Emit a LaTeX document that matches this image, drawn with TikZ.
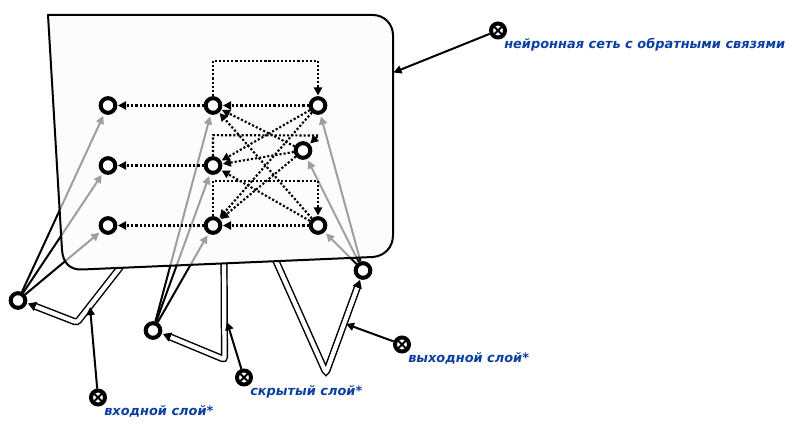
\documentclass[tikz,border=0pt]{standalone}
\usepackage{fontspec}
\setmainfont{DejaVu Sans}
\usetikzlibrary{arrows.meta,calc}
\pgfdeclarelayer{dbl}\pgfdeclarelayer{solidpanel}\pgfdeclarelayer{conn}\pgfdeclarelayer{glass}
\pgfsetlayers{dbl,solidpanel,conn,glass,main}
\definecolor{lblue}{HTML}{0B3FA0}
\definecolor{pfill}{HTML}{FBFBFB}
\tikzset{
  neuron/.style={circle,draw=black,fill=white,line width=3pt,minimum size=11pt,inner sep=0pt},
  marker/.style={circle,draw=black,fill=white,line width=3pt,minimum size=10.5pt,inner sep=0pt,
    path picture={\draw[black,line width=1.5pt] (path picture bounding box.south west)--(path picture bounding box.north east)
      (path picture bounding box.north west)--(path picture bounding box.south east);}},
  lbl/.style={text=lblue,font=\fontsize{9.7pt}{11pt}\selectfont\bfseries\itshape,anchor=base west,inner sep=0pt},
  tip/.style={-{Triangle[length=6pt,width=6pt]}},
  feed/.style={tip,line width=1.6pt,dash pattern=on 1.6pt off 1.5pt,shorten >=0.5pt},
  link/.style={tip,line width=1.5pt,shorten >=1.5pt},
  note/.style={tip,line width=1.5pt},
  dbline/.style={double=white,double distance=3.2pt,line width=1.1pt,rounded corners=2pt,
     -{Triangle[length=6pt,width=7pt]}},
}
\newcommand{\panelpath}{(48,15) -- (373,15) .. controls (384,15) and (393,24) .. (393,35) -- (393,235)
  .. controls (393,248) and (384,256) .. (373,257) -- (82,269.5) .. controls (70,270) and (63,263) .. (62,250) -- cycle}
\begin{document}
\begin{tikzpicture}[x=0.75pt,y=-0.75pt]
\useasboundingbox (0,0) rectangle (795,427);
% neurons
\node[neuron] (a1) at (108,105.5) {};
\node[neuron] (a2) at (108,165.5) {};
\node[neuron] (a3) at (108,225.5) {};
\node[neuron] (b1) at (213,105.5) {};
\node[neuron] (b2) at (213,165.5) {};
\node[neuron] (b3) at (213,225.5) {};
\node[neuron] (c1) at (318,105.5) {};
\node[neuron] (c2) at (303,150.5) {};
\node[neuron] (c3) at (318,225.5) {};
\node[neuron] (in1) at (18,300.5) {};
\node[neuron] (in2) at (153,330.5) {};
\node[neuron] (out) at (363,270.5) {};
% markers
\node[marker] (mnet) at (498,30.5) {};
\node[marker] (min) at (98,397.5) {};
\node[marker] (mhid) at (244,377.5) {};
\node[marker] (mout) at (402,344.5) {};
% free ends
\coordinate (enet) at (393.5,72.5);
\coordinate (ein) at (90,307);
\coordinate (ehid) at (227,322);
\coordinate (eout) at (346,324);
\coordinate (d1a) at (122,265); \coordinate (d1b) at (77,322.5); \coordinate (d1c) at (28,303.5);
\coordinate (d2a) at (224,255); \coordinate (d2b) at (224.5,359.5); \coordinate (d2c) at (163,334);
\coordinate (d3a) at (272,252); \coordinate (d3b) at (326,373); \coordinate (d3c) at (360,280);
\coordinate (f2) at (318.5,135.5);
% labels
\node[lbl] (tnet) at (504,48.6) {нейронная сеть с обратными связями};
\node[lbl] (tin) at (104,415.6) {входной слой*};
\node[lbl] (thid) at (250,395.6) {скрытый слой*};
\node[lbl] (tout) at (408,362.6) {выходной слой*};
% double lines under the panel
\begin{pgfonlayer}{dbl}
\draw[dbline] (d1a) -- (d1b) -- (d1c);
\draw[dbline] (d2a) -- (d2b) -- (d2c);
\draw[dbline] (d3a) -- (d3b) -- (d3c);
\end{pgfonlayer}
\begin{pgfonlayer}{solidpanel}
\fill[white] \panelpath;
\end{pgfonlayer}
% links seen through the panel
\begin{pgfonlayer}{conn}
\foreach \s/\t in {in1/a1,in1/a2,in1/a3,in2/b1,in2/b2,in2/b3,out/c1,out/c2,out/c3}
  \draw[link] (\s) -- (\t);
\end{pgfonlayer}
\begin{pgfonlayer}{glass}
\fill[pfill,fill opacity=0.63] \panelpath;
\draw[black,line width=1.5pt,line join=round] \panelpath;
\end{pgfonlayer}
% feedback and recurrent connections
\foreach \s/\t in {b1/a1,b2/a2,b3/a3,c1/b1,c3/b3,c1/b2,c1/b3,c2/b1,c2/b2,c2/b3,c3/b1,c3/b2}
  \draw[feed] (\s) -- (\t);
\draw[feed] (b1.north) |- ++(52.5,-35.5) -| (c1.north);
\draw[feed] (b3.north) -- ++(0,-35.5) -| (c3.north);
\draw[feed] (b2.north) -- ++(0,-21) -- (f2) -- (c2);
% annotation arrows
\draw[note] (mnet) -- (enet);
\draw[note] (min) -- (ein);
\draw[note] (mhid) -- (ehid);
\draw[note] (mout) -- (eout);
\end{tikzpicture}
\end{document}
